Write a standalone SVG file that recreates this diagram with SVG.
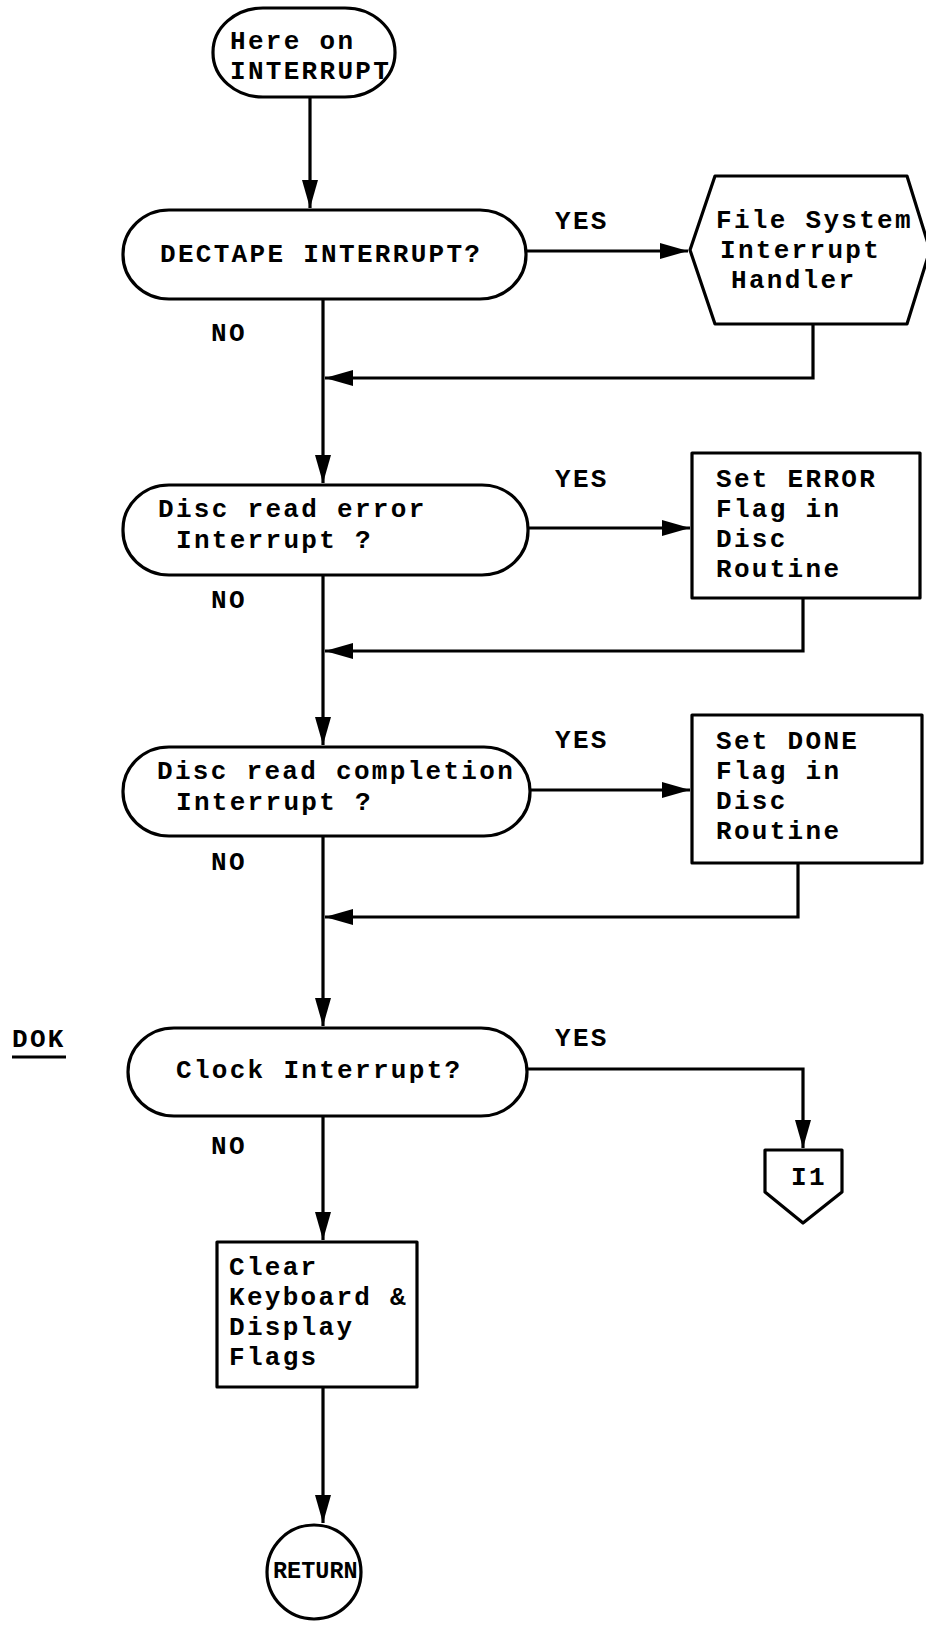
<svg xmlns="http://www.w3.org/2000/svg" width="926" height="1627" viewBox="0 0 926 1627">
<style>
.s{fill:#fff;stroke:#000;stroke-width:3.2;stroke-linejoin:round}
.t{font-family:"Liberation Mono","Courier New",monospace;font-size:26px;letter-spacing:2.3px;font-weight:bold;fill:#000}
.r{font-family:"Liberation Mono","Courier New",monospace;font-size:23.5px;font-weight:bold;fill:#000}
.c{fill:none;stroke:#000;stroke-width:3.2}
</style>
<defs>
<marker id="ah" markerUnits="userSpaceOnUse" markerWidth="30" markerHeight="20" refX="28" refY="8" orient="auto">
<path d="M0,0 L28,8 L0,16 Z" fill="#000"/>
</marker>
</defs>
<g id="connectors">
<path class="c" d="M310,97 V208" marker-end="url(#ah)"/>
<path class="c" d="M323,299 V483" marker-end="url(#ah)"/>
<path class="c" d="M526,251 H688" marker-end="url(#ah)"/>
<path class="c" d="M813,324 V378 H325" marker-end="url(#ah)"/>
<path class="c" d="M323,575 V745" marker-end="url(#ah)"/>
<path class="c" d="M528,528 H690" marker-end="url(#ah)"/>
<path class="c" d="M803,598 V651 H325" marker-end="url(#ah)"/>
<path class="c" d="M323,836 V1026" marker-end="url(#ah)"/>
<path class="c" d="M530,790 H690" marker-end="url(#ah)"/>
<path class="c" d="M798,863 V917 H325" marker-end="url(#ah)"/>
<path class="c" d="M323,1116 V1240" marker-end="url(#ah)"/>
<path class="c" d="M527,1069 H803 V1148" marker-end="url(#ah)"/>
<path class="c" d="M323,1387 V1523" marker-end="url(#ah)"/>
</g>
<g id="start">
<rect class="s" x="213" y="8" width="182" height="89" rx="50" ry="44"/>
<text class="t" x="230" y="49">Here on</text>
<text class="t" x="230" y="79">INTERRUPT</text>
</g>
<g id="dectape">
<rect class="s" x="123" y="210" width="403" height="89" rx="46" ry="44"/>
<text class="t" x="160" y="262">DECTAPE INTERRUPT?</text>
</g>
<g id="fileSystem">
<polygon class="s" points="690,250 715,176 907,176 930,250 907,324 715,324"/>
<text class="t" x="716" y="228">File System</text>
<text class="t" x="720" y="258">Interrupt</text>
<text class="t" x="731" y="288">Handler</text>
</g>
<g id="discError">
<rect class="s" x="123" y="485" width="405" height="90" rx="46" ry="44"/>
<text class="t" x="158" y="517">Disc read error</text>
<text class="t" x="176" y="548">Interrupt ?</text>
</g>
<g id="setError">
<rect class="s" x="692" y="453" width="228" height="145"/>
<text class="t" x="716" y="487">Set ERROR</text>
<text class="t" x="716" y="517">Flag in</text>
<text class="t" x="716" y="547">Disc</text>
<text class="t" x="716" y="577">Routine</text>
</g>
<g id="discCompletion">
<rect class="s" x="123" y="747" width="407" height="89" rx="46" ry="44"/>
<text class="t" x="157" y="779">Disc read completion</text>
<text class="t" x="176" y="810">Interrupt ?</text>
</g>
<g id="setDone">
<rect class="s" x="692" y="715" width="230" height="148"/>
<text class="t" x="716" y="749">Set DONE</text>
<text class="t" x="716" y="779">Flag in</text>
<text class="t" x="716" y="809">Disc</text>
<text class="t" x="716" y="839">Routine</text>
</g>
<g id="clock">
<rect class="s" x="128" y="1028" width="399" height="88" rx="46" ry="44"/>
<text class="t" x="176" y="1078">Clock Interrupt?</text>
</g>
<g id="dokLabel">
<text class="t" x="12" y="1047">DOK</text>
<line x1="12" y1="1057" x2="66" y2="1057" stroke="#000" stroke-width="3"/>
</g>
<g id="i1">
<polygon class="s" points="765,1150 842,1150 842,1192 803,1223 765,1192"/>
<text class="t" x="791" y="1185">I1</text>
</g>
<g id="clearFlags">
<rect class="s" x="217" y="1242" width="200" height="145"/>
<text class="t" x="229" y="1275">Clear</text>
<text class="t" x="229" y="1305">Keyboard &amp;</text>
<text class="t" x="229" y="1335">Display</text>
<text class="t" x="229" y="1365">Flags</text>
</g>
<g id="return">
<circle class="s" cx="314" cy="1572" r="47"/>
<text class="r" x="273" y="1578">RETURN</text>
</g>
<g id="labels">
<text class="t" x="555" y="229">YES</text>
<text class="t" x="211" y="341">NO</text>
<text class="t" x="555" y="487">YES</text>
<text class="t" x="211" y="608">NO</text>
<text class="t" x="555" y="748">YES</text>
<text class="t" x="211" y="870">NO</text>
<text class="t" x="555" y="1046">YES</text>
<text class="t" x="211" y="1154">NO</text>
</g>
</svg>
